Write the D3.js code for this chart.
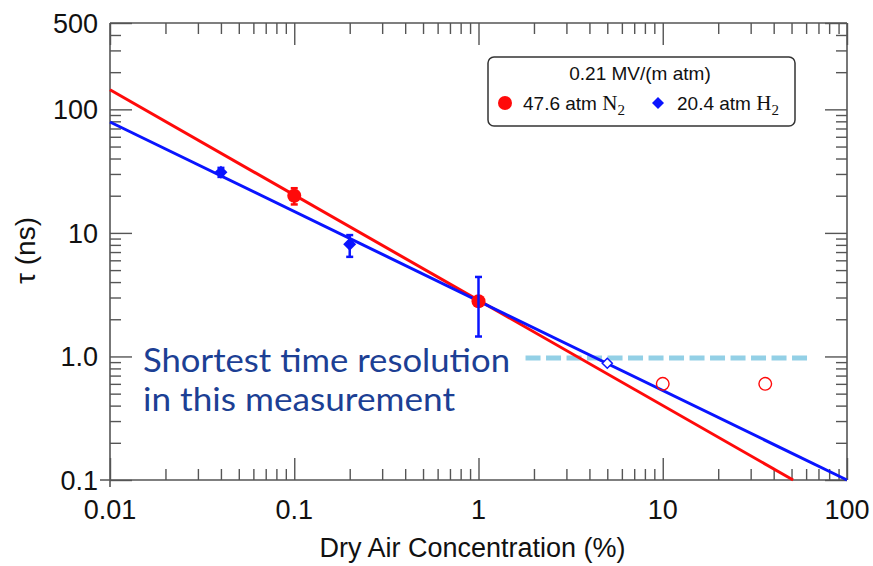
<!DOCTYPE html>
<html>
<head>
<meta charset="utf-8">
<script src="https://cdn.jsdelivr.net/npm/d3@7"></script>
<style>
  body { margin: 0; background: #fff; }
  .axis path { display: none; }
  .axis line { stroke: #555; stroke-width: 1.4px; }
  .tickLabel { font-family: 'Liberation Sans', Arial, sans-serif; font-size: 27px; fill: #111; }
</style>
</head>
<body>
<div id="chart_div"></div>
<script>
var svg;
var plotG;

// axis ticks
const xTickValues = [0.01, 0.1, 1, 10, 100];
const xTickLabels = ['0.01', '0.1', '1', '10', '100'];
const yTickValues = [0.1, 1, 10, 100, 500];
const yTickLabels = ['0.1', '1.0', '10', '100', '500'];

// 47.6 atm N2 (red)
const n2Conc = [0.1, 1];
const n2Tau = [20, 2.8];
const n2ErrLow = [17, 2.8];
const n2ErrHigh = [23, 2.8];
const n2OpenConc = [10, 36];
const n2OpenTau = [0.6, 0.6];
const n2FitConc = [0.01, 51];
const n2FitTau = [144, 0.1];

// 20.4 atm H2 (blue)
const h2Conc = [0.04, 0.2, 1];
const h2Tau = [31, 8.1, 2.8];
const h2ErrLow = [28.4, 6.4, 1.45];
const h2ErrHigh = [33.6, 9.6, 4.4];
const h2OpenConc = [5];
const h2OpenTau = [0.88];
const h2FitConc = [0.01, 100];
const h2FitTau = [79, 0.1];

// time resolution limit
const resolutionConc = [1.8, 65];
const resolutionTau = [0.97, 0.97];

const width = 873;
const height = 566;
const margin = {top: 23, right: 26, bottom: 86, left: 110};
const innerWidth = width - margin.left - margin.right;
const innerHeight = height - margin.top - margin.bottom;
const red = '#ff0a0a';
const blue = '#0a14ff';

// scales in page coordinates
const x = d3.scaleLog().domain([0.01, 100]).range([margin.left, margin.left + innerWidth]);
const y = d3.scaleLog().domain([0.1, 500]).range([margin.top + innerHeight, margin.top]);
const x0 = x(0.01), x1 = x(100), yBot = y(0.1), yTop = y(500);

const zip = (xs, ys) => xs.map((v, i) => ({x: v, y: ys[i]}));
const minor = (scale, majors) => scale.ticks().filter(t => !majors.some(m => Math.abs(m - t) / m < 1e-6));

svg = d3.select('#chart_div')
    .append('svg')
        .attr('width', width)
        .attr('height', height);

svg.append('rect').attr('width', width).attr('height', height).attr('fill', '#fff');

plotG = svg.append('g');

// ticks - major ones long, minor ones short, all pointing in
const xMinor = minor(x, xTickValues);
const yMinor = minor(y, yTickValues);

const tickAxis = (axis, values, size, shift) => {
    plotG.append('g').attr('class', 'axis')
        .attr('transform', shift)
        .call(axis.tickValues(values).tickSize(size).tickFormat(''));
};
tickAxis(d3.axisBottom(x), xTickValues, -22, `translate(0,${yBot})`);
tickAxis(d3.axisBottom(x), xMinor, -11, `translate(0,${yBot})`);
tickAxis(d3.axisTop(x), xTickValues, -22, `translate(0,${yTop})`);
tickAxis(d3.axisTop(x), xMinor, -11, `translate(0,${yTop})`);
tickAxis(d3.axisLeft(y), yTickValues, -22, `translate(${x0},0)`);
tickAxis(d3.axisLeft(y), yMinor, -11, `translate(${x0},0)`);
tickAxis(d3.axisRight(y), yTickValues, -22, `translate(${x1},0)`);
tickAxis(d3.axisRight(y), yMinor, -11, `translate(${x1},0)`);

// tick labels
svg.selectAll('.xLabel')
    .data(xTickValues)
    .enter()
    .append('text')
        .attr('class', 'tickLabel xLabel')
        .attr('x', d => x(d))
        .attr('y', yBot + 39)
        .attr('text-anchor', 'middle')
        .text((d, i) => xTickLabels[i]);
svg.selectAll('.yLabel')
    .data(yTickValues)
    .enter()
    .append('text')
        .attr('class', 'tickLabel yLabel')
        .attr('x', x0 - 12)
        .attr('y', d => y(d) + 10)
        .attr('text-anchor', 'end')
        .text((d, i) => yTickLabels[i]);

// frame (bottom and left lines run a bit past the corner)
const frame = plotG.append('g')
    .attr('stroke', '#555')
    .attr('stroke-width', 1.6);
frame.append('line').attr('x1', x0 - 10).attr('x2', x1).attr('y1', yBot).attr('y2', yBot);
frame.append('line').attr('x1', x0).attr('x2', x0).attr('y1', yTop).attr('y2', yBot + 7);
frame.append('line').attr('x1', x0).attr('x2', x1).attr('y1', yTop).attr('y2', yTop);
frame.append('line').attr('x1', x1).attr('x2', x1).attr('y1', yTop).attr('y2', yBot);

// axis titles
svg.append('text')
    .attr('x', x(1) - 6)
    .attr('y', 557)
    .attr('text-anchor', 'middle')
    .style('font-family', "'Liberation Sans', Arial, sans-serif")
    .style('font-size', '27px')
    .attr('fill', '#111')
    .text('Dry Air Concentration (%)');

svg.append('text')
    .attr('transform', `translate(35,${y(7.2)}) rotate(-90)`)
    .attr('text-anchor', 'middle')
    .style('font-family', "'Liberation Sans', Arial, sans-serif")
    .style('font-size', '28px')
    .attr('fill', '#111')
    .text('τ (ns)');

// annotation box
const note = svg.append('g');
note.append('rect')
    .attr('x', 136).attr('y', 340)
    .attr('width', 382).attr('height', 84)
    .attr('fill', '#fff');
note.selectAll('text')
    .data([{t: 'Shortest time resolution', y: 372, w: 367}, {t: 'in this measurement', y: 411, w: 312}])
    .enter()
    .append('text')
        .attr('x', 143)
        .attr('y', d => d.y)
        .attr('textLength', d => d.w)
        .attr('lengthAdjust', 'spacingAndGlyphs')
        .style('font-family', "Lato, 'Open Sans', sans-serif")
        .style('font-size', '32px')
        .attr('fill', '#1c3f94')
        .text(d => d.t);

// dashed resolution line
const line = d3.line().x(d => x(d.x)).y(d => y(d.y));
plotG.append('path')
    .attr('d', line(zip(resolutionConc, resolutionTau)))
    .attr('fill', 'none')
    .attr('stroke', '#93d0e6')
    .attr('stroke-width', 5)
    .attr('stroke-dasharray', '15,5.5');

// fits
plotG.append('path')
    .attr('d', line(zip(n2FitConc, n2FitTau)))
    .attr('fill', 'none')
    .attr('stroke', red)
    .attr('stroke-width', 3);
plotG.append('path')
    .attr('d', line(zip(h2FitConc, h2FitTau)))
    .attr('fill', 'none')
    .attr('stroke', blue)
    .attr('stroke-width', 3);

// error bars
const drawErrors = (conc, lo, hi, clr) => {
    const g = plotG.append('g').attr('stroke', clr).attr('stroke-width', 2.5);
    conc.forEach((c, i) => {
        if (lo[i] === hi[i]) return;
        g.append('line').attr('x1', x(c)).attr('x2', x(c)).attr('y1', y(lo[i])).attr('y2', y(hi[i]));
        g.append('line').attr('x1', x(c) - 3.5).attr('x2', x(c) + 3.5).attr('y1', y(lo[i])).attr('y2', y(lo[i]));
        g.append('line').attr('x1', x(c) - 3.5).attr('x2', x(c) + 3.5).attr('y1', y(hi[i])).attr('y2', y(hi[i]));
    });
};

const diamond = s => `M0,${-s}L${s},0L0,${s}L${-s},0Z`;

// open points
plotG.selectAll('.n2open')
    .data(zip(n2OpenConc, n2OpenTau))
    .enter()
    .append('circle')
        .attr('class', 'n2open')
        .attr('cx', d => x(d.x))
        .attr('cy', d => y(d.y))
        .attr('r', 6.3)
        .attr('fill', 'none')
        .attr('stroke', red)
        .attr('stroke-width', 1.4);
plotG.selectAll('.h2open')
    .data(zip(h2OpenConc, h2OpenTau))
    .enter()
    .append('path')
        .attr('class', 'h2open')
        .attr('transform', d => `translate(${x(d.x)},${y(d.y)})`)
        .attr('d', diamond(5))
        .attr('fill', '#fff')
        .attr('stroke', blue)
        .attr('stroke-width', 1.5);

// filled points
drawErrors(n2Conc, n2ErrLow, n2ErrHigh, red);
plotG.selectAll('.h2pt')
    .data(zip(h2Conc, h2Tau))
    .enter()
    .append('path')
        .attr('class', 'h2pt')
        .attr('transform', d => `translate(${x(d.x)},${y(d.y)})`)
        .attr('d', diamond(6.5))
        .attr('fill', blue);
plotG.selectAll('.n2pt')
    .data(zip(n2Conc, n2Tau))
    .enter()
    .append('circle')
        .attr('class', 'n2pt')
        .attr('cx', d => x(d.x))
        .attr('cy', d => y(d.y))
        .attr('r', 7)
        .attr('fill', red);
drawErrors(h2Conc, h2ErrLow, h2ErrHigh, blue);

// legend
const legend = svg.append('g')
    .style('font-family', "'Liberation Sans', Arial, sans-serif")
    .attr('fill', '#111');
legend.append('rect')
    .attr('x', 488).attr('y', 57)
    .attr('width', 307).attr('height', 69)
    .attr('rx', 6)
    .attr('fill', '#fff')
    .attr('stroke', '#333')
    .attr('stroke-width', 1.5);
legend.append('text')
    .attr('x', 640).attr('y', 80)
    .attr('text-anchor', 'middle')
    .style('font-size', '19px')
    .text('0.21 MV/(m atm)');
legend.append('circle').attr('cx', 505).attr('cy', 103).attr('r', 7).attr('fill', red);
legend.append('path').attr('transform', 'translate(658,103)').attr('d', diamond(6)).attr('fill', blue);

const legendItem = (lx, label, gas) => {
    const t = legend.append('text')
        .attr('x', lx).attr('y', 110)
        .style('font-size', '19px');
    t.append('tspan').text(label + ' ');
    t.append('tspan').style('font-family', "'Liberation Serif', serif").style('font-size', '21px').text(gas);
    t.append('tspan').attr('dy', 5).style('font-family', "'Liberation Serif', serif").style('font-size', '15px').text('2');
};
legendItem(523, '47.6 atm', 'N');
legendItem(677, '20.4 atm', 'H');
</script>
</body>
</html>
